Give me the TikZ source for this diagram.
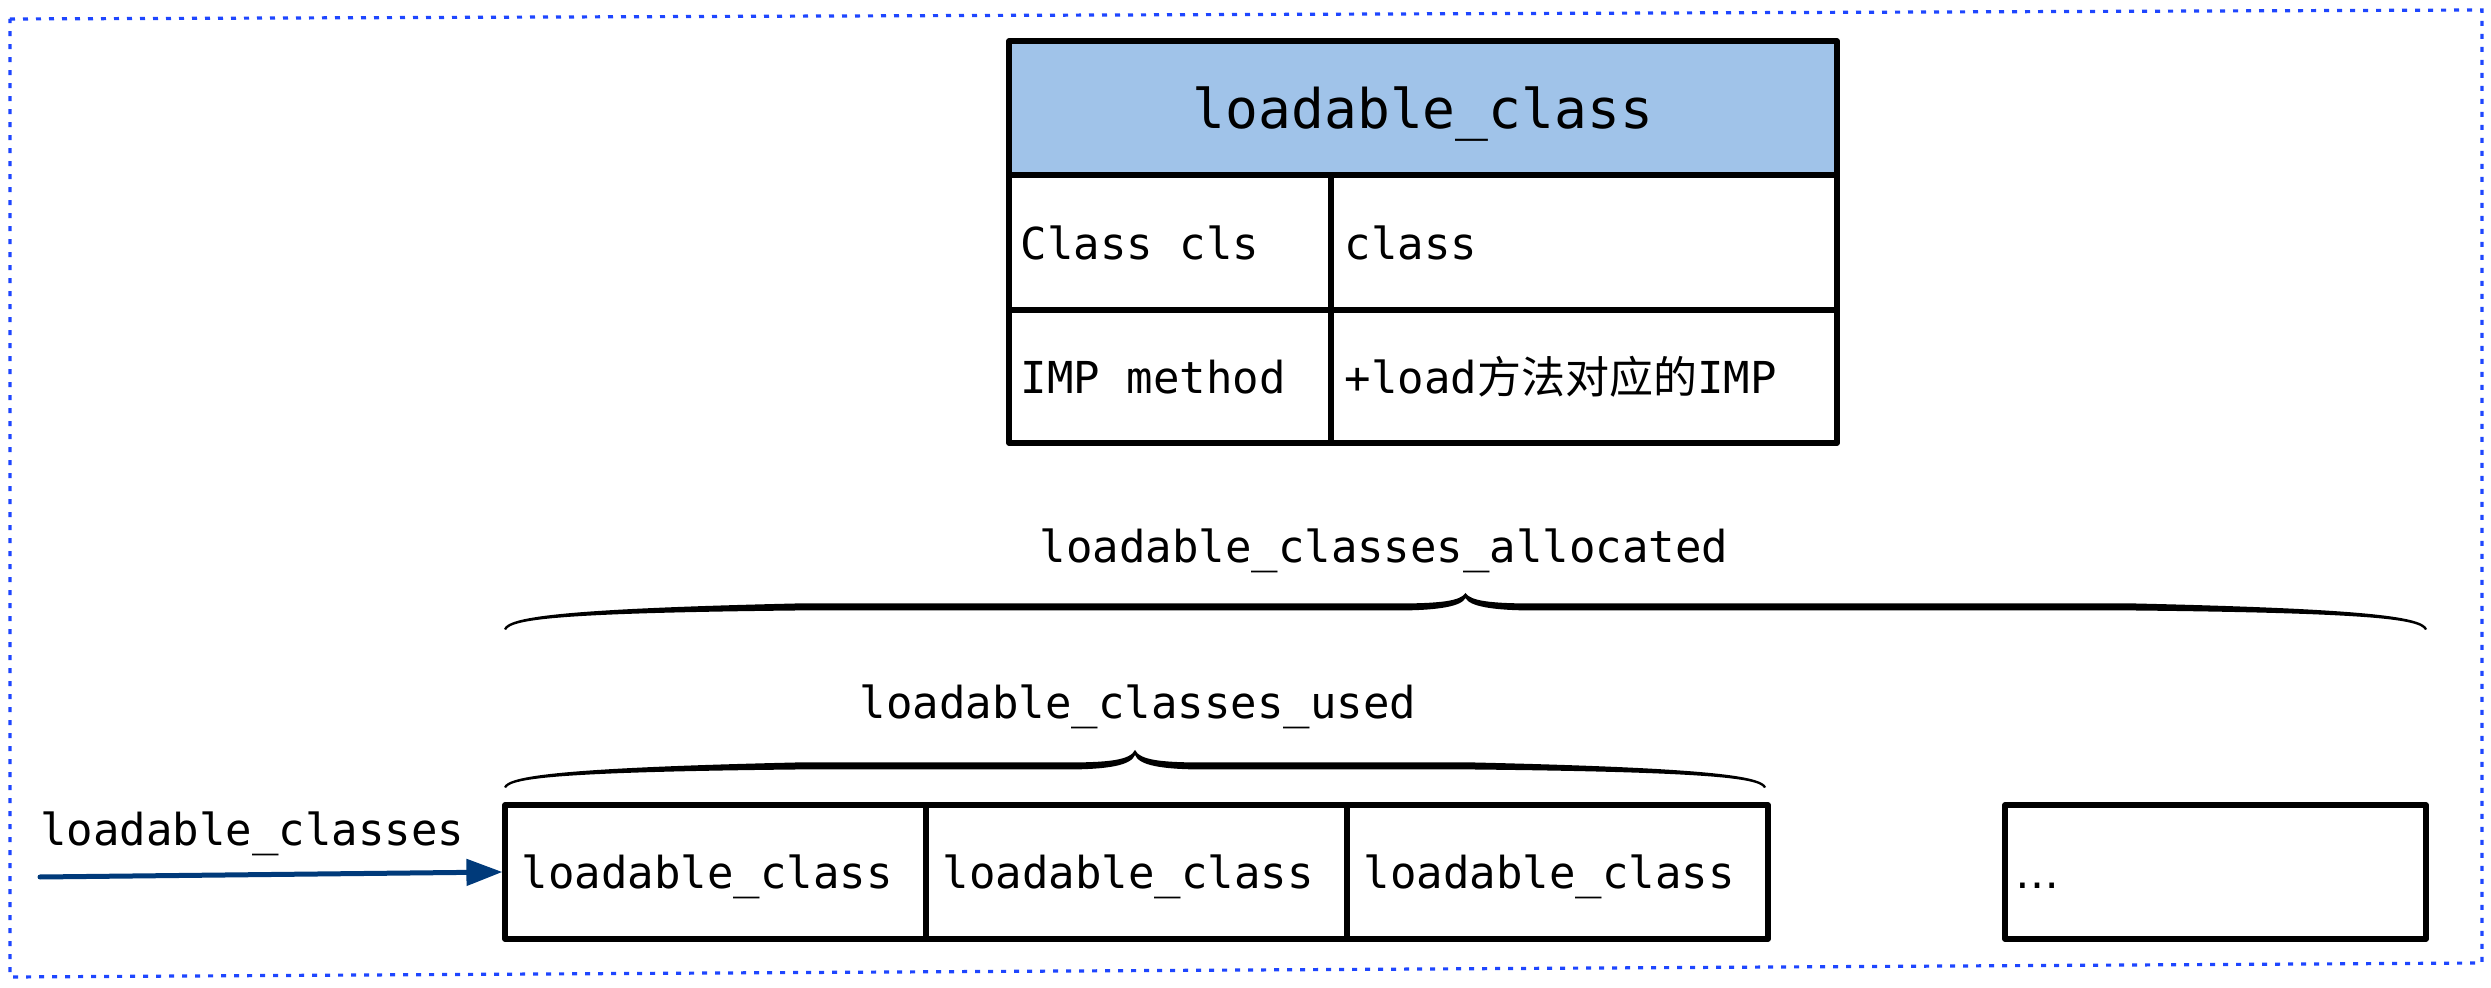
\documentclass[tikz,border=0pt]{standalone}
\usepackage{fontspec}
\setmonofont{DejaVu Sans Mono}
\newfontfamily\cjk{Noto Sans CJK SC}
\newfontfamily\dvsans{DejaVu Sans}
\usetikzlibrary{arrows.meta}
\definecolor{hdrblue}{RGB}{160,195,233}
\definecolor{arrowblue}{RGB}{0,58,122}
\definecolor{frameblue}{RGB}{30,70,255}
\newcommand\curlybrace[5]{%
  \pgfmathsetmacro\bxm{(#1+#2)/2}%
  \fill ({#1-1},{#5}) .. controls ({#1+3},{#4+10}) and ({#1+55},{#4+2}) .. ({#1+290},{#4-3.5})
    -- ({\bxm-70},{#4-3.5}) .. controls ({\bxm-25},{#4-3.5}) and ({\bxm-5},{#4-6}) .. (\bxm,{#3})
    .. controls ({\bxm+5},{#4-6}) and ({\bxm+25},{#4-3.5}) .. ({\bxm+70},{#4-3.5})
    -- ({#2-290},{#4-3.5}) .. controls ({#2-55},{#4+2}) and ({#2-3},{#4+10}) .. ({#2+1},{#5})
    -- ({#2-1},{#5+1}) .. controls ({#2-6},{#4+12}) and ({#2-60},{#4+6}) .. ({#2-290},{#4+3.5})
    -- ({\bxm+70},{#4+3.5}) .. controls ({\bxm+25},{#4+3.5}) and ({\bxm+4},{#4-1}) .. (\bxm,{#3+5})
    .. controls ({\bxm-4},{#4-1}) and ({\bxm-25},{#4+3.5}) .. ({\bxm-70},{#4+3.5})
    -- ({#1+290},{#4+3.5}) .. controls ({#1+60},{#4+6}) and ({#1+6},{#4+12}) .. ({#1+1},{#5+1}) -- cycle;}
\begin{document}
\begin{tikzpicture}[x=0.5pt,y=-0.5pt,
  txt/.style={font=\ttfamily\fontsize{22pt}{26pt}\selectfont, inner sep=0pt, text height=16.7pt, text depth=0pt},
  hdrtxt/.style={font=\ttfamily\fontsize{27.3pt}{32pt}\selectfont, inner sep=0pt, text height=20.7pt, text depth=0pt},
  cellbox/.style={draw=black, line width=2.6pt, minimum height=67pt, inner sep=0pt, line join=round},
  slot/.style={draw=black, line width=2.6pt, minimum width=210.5pt, minimum height=67pt, inner sep=0pt, line join=round},
  frame/.style={draw=frameblue, line width=1.6pt, dash pattern=on 2.5pt off 4pt},
  ptr/.style={draw=arrowblue, line width=2.5pt, line cap=round, -{Triangle[length=18pt,width=13pt]}}
]
\useasboundingbox (0,0) rectangle (2491,988);
% frame
\coordinate (tl) at (10,19);
\coordinate (tr) at (2482,10);
\coordinate (br) at (2482,963);
\coordinate (bl) at (10,977);
\draw[frame] (tl) -- (tr) -- (br) -- (bl) -- cycle;
% table
\node[cellbox, fill=hdrblue, minimum width=414pt, minimum height=67pt] (hdr) at (1423,108) {};
\node[hdrtxt] (hdrtext) at (hdr.center) {loadable\_class};
\node[cellbox, minimum width=161pt, minimum height=67.5pt] (c11) at (1170,242.5) {};
\node[cellbox, minimum width=253pt, minimum height=67.5pt] (c12) at (1584,242.5) {};
\node[cellbox, minimum width=161pt, minimum height=66.5pt] (c21) at (1170,376.5) {};
\node[cellbox, minimum width=253pt, minimum height=66.5pt] (c22) at (1584,376.5) {};
\node[txt, anchor=west] (t11) at ([xshift=7pt]c11.west) {Class cls};
\node[txt, anchor=west] (t12) at ([xshift=8pt]c12.west) {class};
\node[txt, anchor=west] (t21) at ([xshift=7pt]c21.west) {IMP method};
\node[txt, anchor=west] (t22) at ([xshift=8pt]c22.west) {+load{\cjk 方法对应的}IMP};
% braces
\curlybrace{505}{2426}{593}{607}{629}
\curlybrace{505}{1765}{750}{766}{787}
\node[txt] (alloc) at (1384,546) {loadable\_classes\_allocated};
\node[txt] (used) at (1138,702) {loadable\_classes\_used};
% slots
\node[slot] (s1) at (715.5,872) {};
\node[slot] (s2) at (1136.5,872) {};
\node[slot] (s3) at (1557.5,872) {};
\node[slot] (s4) at (2215.5,872) {};
\node[txt, anchor=west] (s1t) at ([xshift=9.5pt]s1.west) {loadable\_class};
\node[txt, anchor=west] (s2t) at ([xshift=9.5pt]s2.west) {loadable\_class};
\node[txt, anchor=west] (s3t) at ([xshift=9.5pt]s3.west) {loadable\_class};
\node[txt, anchor=west, font=\dvsans\fontsize{22pt}{26pt}\selectfont] (s4t) at ([xshift=6.5pt]s4.west) {…};
% pointer
\node[txt, anchor=west] (lc) at (40,829) {loadable\_classes};
\coordinate (ptrstart) at (40,877);
\draw[ptr] (ptrstart) -- (s1.west);
\end{tikzpicture}
\end{document}
